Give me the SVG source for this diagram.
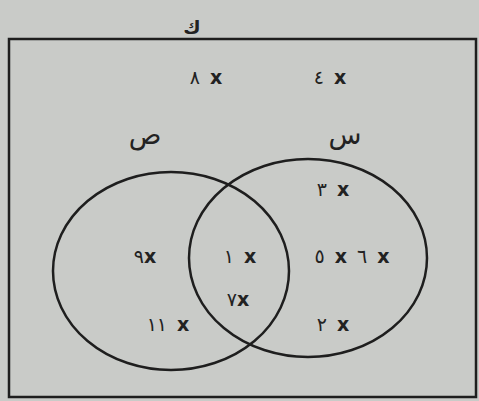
<svg xmlns="http://www.w3.org/2000/svg" width="479" height="401" viewBox="0 0 479 401">
<style>
.t{font-family:"DejaVu Sans","Noto Sans",sans-serif;font-size:19px;fill:#222;text-anchor:middle;word-spacing:4px}
.x{font-weight:bold}
.l{font-family:"DejaVu Sans","Noto Sans",sans-serif;font-size:27px;fill:#222;text-anchor:middle}
.s{fill:none;stroke:#1e1e1e;stroke-width:2.5}
</style>
<rect x="0" y="0" width="479" height="401" fill="#c9cbc8"/>
<g id="universe">
<rect class="s" x="9" y="39" width="467" height="358" stroke-width="3"/>
<text class="t" x="192" y="34" font-size="22" font-weight="bold">ك</text>
<text class="t" x="206" y="84">٨ <tspan class="x">x</tspan></text>
<text class="t" x="330" y="84">٤ <tspan class="x">x</tspan></text>
</g>
<g id="setS">
<ellipse class="s" cx="308" cy="258" rx="119" ry="99"/>
<text class="l" x="345" y="144">س</text>
<text class="t" x="333" y="196">٣ <tspan class="x">x</tspan></text>
<text class="t" x="352" y="263">٥ <tspan class="x">x</tspan> ٦ <tspan class="x">x</tspan></text>
<text class="t" x="333" y="331">٢ <tspan class="x">x</tspan></text>
</g>
<g id="setSad">
<ellipse class="s" cx="171" cy="271" rx="118" ry="99"/>
<text class="l" x="145" y="144">ص</text>
<text class="t" x="145" y="263">٩<tspan class="x">x</tspan></text>
<text class="t" x="168" y="331">١١ <tspan class="x">x</tspan></text>
</g>
<g id="intersection">
<text class="t" x="240" y="263">١ <tspan class="x">x</tspan></text>
<text class="t" x="238" y="306">٧<tspan class="x">x</tspan></text>
</g>
</svg>
